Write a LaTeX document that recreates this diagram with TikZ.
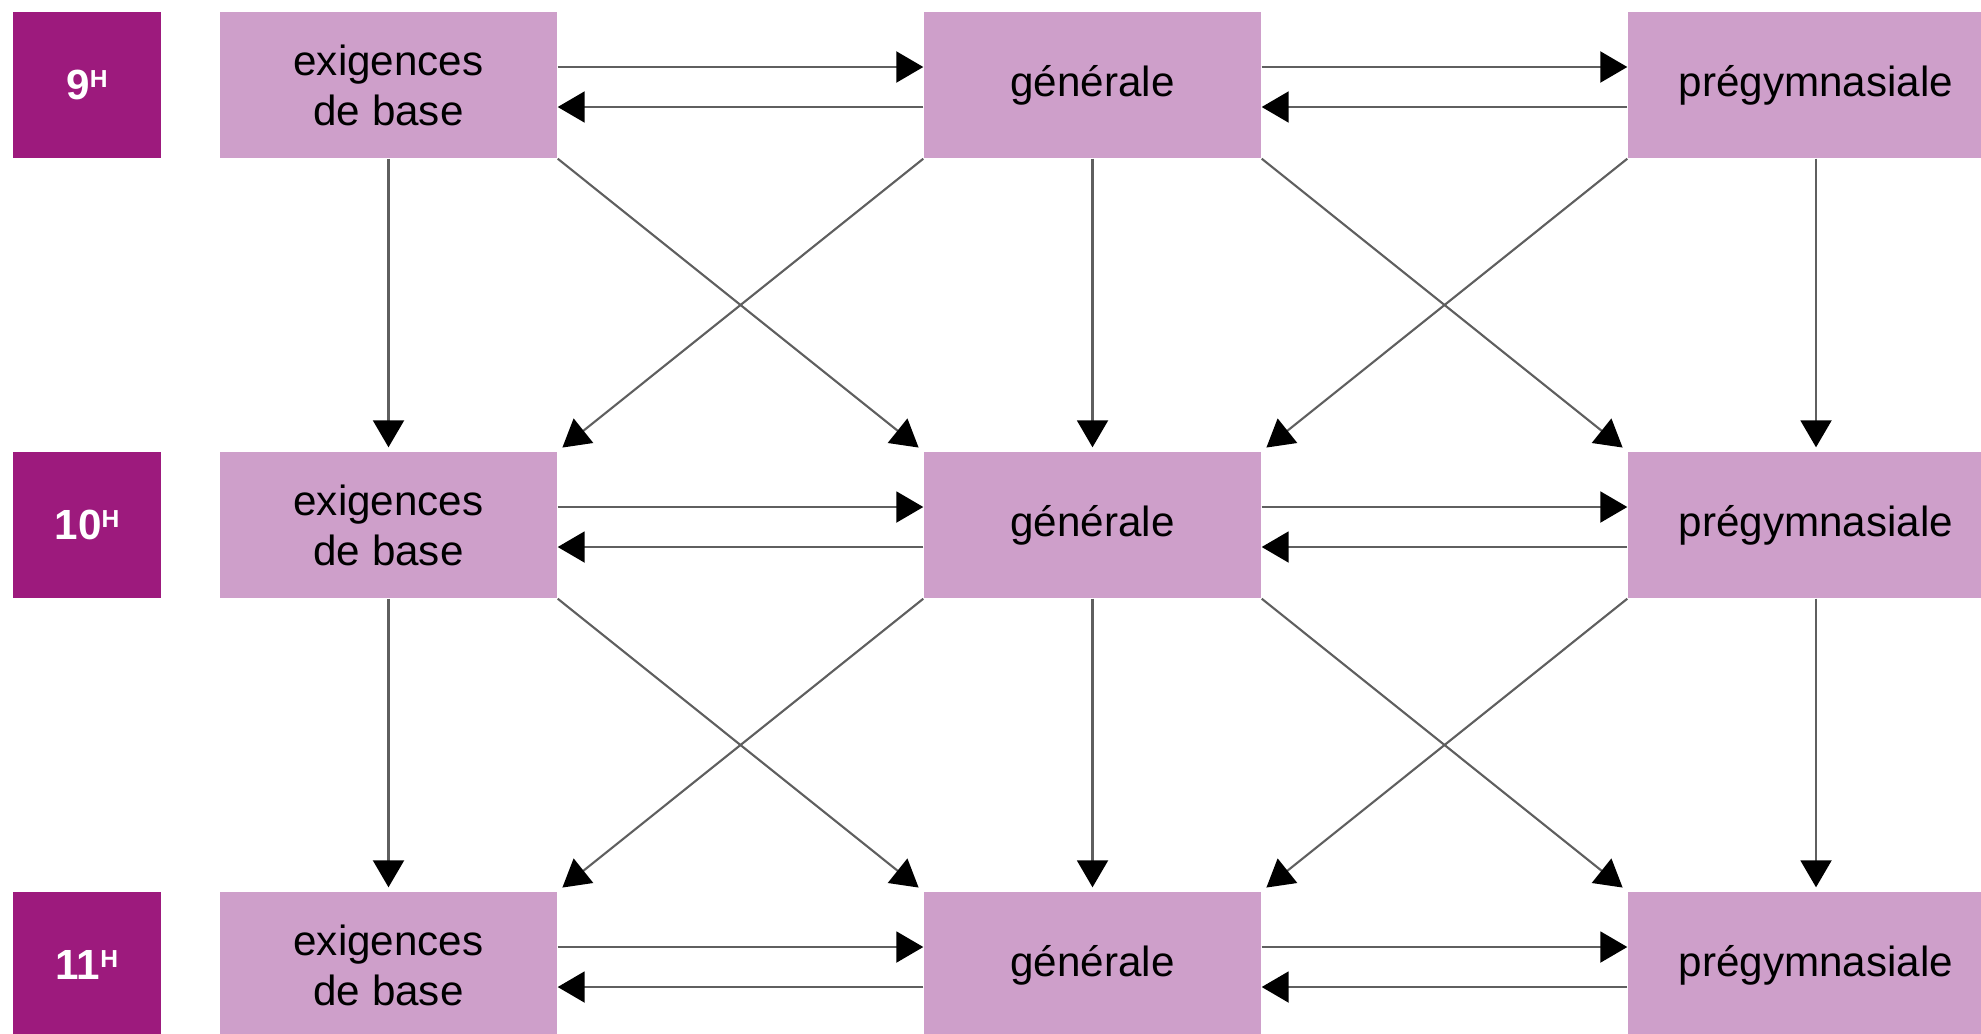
\documentclass[tikz,border=0pt]{standalone}
\usepackage{fontspec}
\setmainfont{Liberation Sans}
\definecolor{gradeviolet}{RGB}{157, 26, 125}
\definecolor{levellilac}{RGB}{206, 159, 202}
\definecolor{linegray}{RGB}{95, 95, 95}
\usetikzlibrary{arrows.meta, positioning}

\tikzset{
  grade/.style={fill=gradeviolet, text=white, font=\fontsize{12}{14}\selectfont\bfseries, minimum width=1.48cm, minimum height=1.46cm, inner sep=0pt},
  level/.style={fill=levellilac, text=black, font=\fontsize{12}{14.2}\selectfont, align=center, minimum width=3.37cm, minimum height=1.46cm, inner sep=0pt},
  widelevel/.style={level, minimum width=3.76cm},
  flow/.style={draw=linegray, line width=0.6pt, -{Triangle[length=0.27cm, width=0.31cm, color=black]}},
}
\newcommand{\hgrade}[1]{#1\raisebox{3.4pt}{\fontsize{7}{7}\selectfont H}}

\begin{document}
\begin{tikzpicture}
  \useasboundingbox (0, 0) rectangle (19.81, -10.33);

  % 9H
  \node[grade] (h9) at (0.87, -0.85) {\hgrade{9}};
  \node[level] (eb9) at (3.885, -0.85) {exigences\\de base};
  \node[level] (ge9) at (10.925, -0.85) {générale};
  \node[widelevel] (pg9) at (18.16, -0.85) {prégymnasiale};

  % 10H
  \node[grade] (h10) at (0.87, -5.25) {\hgrade{10}};
  \node[level] (eb10) at (3.885, -5.25) {exigences\\de base};
  \node[level] (ge10) at (10.925, -5.25) {générale};
  \node[widelevel] (pg10) at (18.16, -5.25) {prégymnasiale};

  % 11H
  \node[grade] (h11) at (0.87, -9.65) {\hgrade{11}};
  \node[level] (eb11) at (3.885, -9.65) {exigences\\de base};
  \node[level] (ge11) at (10.925, -9.65) {générale};
  \node[widelevel] (pg11) at (18.16, -9.65) {prégymnasiale};

  % changes within a year
  \draw[flow] ([yshift=0.18cm]eb9.east) -- ([yshift=0.18cm]ge9.west);
  \draw[flow] ([yshift=-0.22cm]ge9.west) -- ([yshift=-0.22cm]eb9.east);
  \draw[flow] ([yshift=0.18cm]ge9.east) -- ([yshift=0.18cm]pg9.west);
  \draw[flow] ([yshift=-0.22cm]pg9.west) -- ([yshift=-0.22cm]ge9.east);

  \draw[flow] ([yshift=0.18cm]eb10.east) -- ([yshift=0.18cm]ge10.west);
  \draw[flow] ([yshift=-0.22cm]ge10.west) -- ([yshift=-0.22cm]eb10.east);
  \draw[flow] ([yshift=0.18cm]ge10.east) -- ([yshift=0.18cm]pg10.west);
  \draw[flow] ([yshift=-0.22cm]pg10.west) -- ([yshift=-0.22cm]ge10.east);

  \draw[flow] ([yshift=0.18cm]eb11.east) -- ([yshift=0.18cm]ge11.west);
  \draw[flow] ([yshift=-0.22cm]ge11.west) -- ([yshift=-0.22cm]eb11.east);
  \draw[flow] ([yshift=0.18cm]ge11.east) -- ([yshift=0.18cm]pg11.west);
  \draw[flow] ([yshift=-0.22cm]pg11.west) -- ([yshift=-0.22cm]ge11.east);

  % same level, next year
  \draw[flow, shorten >=0.04cm] (eb9.south) -- (eb10.north);
  \draw[flow, shorten >=0.04cm] (ge9.south) -- (ge10.north);
  \draw[flow, shorten >=0.04cm] (pg9.south) -- (pg10.north);
  \draw[flow, shorten >=0.04cm] (eb10.south) -- (eb11.north);
  \draw[flow, shorten >=0.04cm] (ge10.south) -- (ge11.north);
  \draw[flow, shorten >=0.04cm] (pg10.south) -- (pg11.north);

  % other level, next year
  \draw[flow, shorten >=0.06cm] (eb9.south east) -- (ge10.north west);
  \draw[flow, shorten >=0.06cm] (ge9.south west) -- (eb10.north east);
  \draw[flow, shorten >=0.06cm] (ge9.south east) -- (pg10.north west);
  \draw[flow, shorten >=0.06cm] (pg9.south west) -- (ge10.north east);

  \draw[flow, shorten >=0.06cm] (eb10.south east) -- (ge11.north west);
  \draw[flow, shorten >=0.06cm] (ge10.south west) -- (eb11.north east);
  \draw[flow, shorten >=0.06cm] (ge10.south east) -- (pg11.north west);
  \draw[flow, shorten >=0.06cm] (pg10.south west) -- (ge11.north east);
\end{tikzpicture}
\end{document}
